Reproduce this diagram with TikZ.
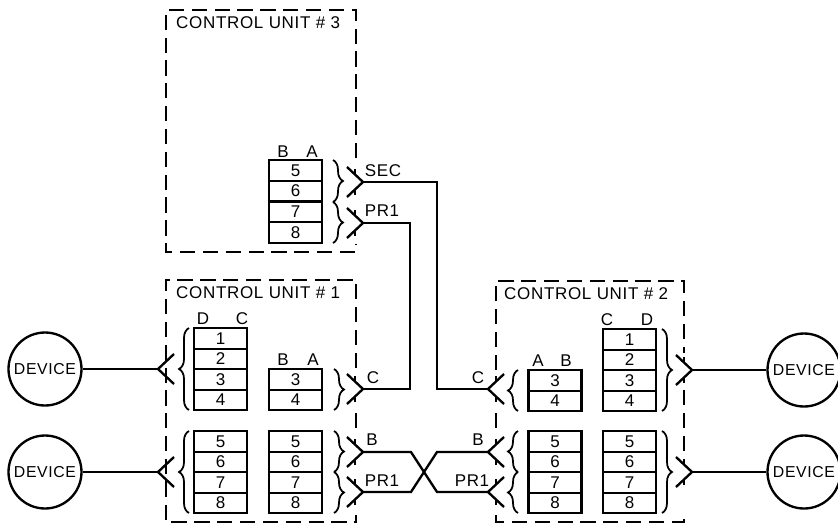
\documentclass[tikz,border=0pt]{standalone}
\usepackage{fontspec}
\setmainfont[LetterSpace=4]{Liberation Sans}
\usetikzlibrary{decorations.pathreplacing}
\tikzset{
	wire/.style={line width=2pt, line join=miter},
	unitbox/.style={line width=2.1pt, dash pattern=on 13pt off 6.5pt},
	cell/.style={draw, line width=2pt, minimum width=1.59cm, minimum height=0.615cm, inner sep=0pt, outer sep=0pt, font=\fontsize{14.5}{14.5}\selectfont},
	lab/.style={inner sep=0pt, font=\fontsize{14.5}{14.5}\selectfont},
	device/.style={draw, circle, line width=2pt, minimum size=2.19cm, inner sep=0pt, font=\fontsize{13.5}{14}\selectfont},
	bundle/.style={line width=1.5pt, decorate, decoration={brace, amplitude=0.3cm}}
}
\begin{document}
\begin{tikzpicture}[x=0.03cm, y=-0.03cm]
	\useasboundingbox (0,0) rectangle (838,523);
	% control unit outlines
	\draw[unitbox] (356,158) -- (356,10) -- (166,10) -- (166,252) -- (356,252) -- (356,244);
	\draw[unitbox] (356,368) -- (356,280) -- (166,280) -- (166,522) -- (356,522) -- (356,515);
	\draw[unitbox] (356,413) -- (356,428);
	\draw[unitbox] (496,370) -- (496,281) -- (684,281) -- (684,353);
	\draw[unitbox] (496,413) -- (496,428);
	\draw[unitbox] (496,515) -- (496,522) -- (684,522) -- (684,513);
	\draw[unitbox] (684,390) -- (684,456);
	\node[lab, anchor=west] (title3) at (176,23) {CONTROL UNIT \# 3};
	\node[lab, anchor=west] (title1) at (176,293) {CONTROL UNIT \# 1};
	\node[lab, anchor=west] (title2) at (504,294) {CONTROL UNIT \# 2};

	% storage cells
	\foreach \n/\y in {5/170.5,6/191,7/212,8/232.5} \node[cell] (c\n) at (295.5,\y) {\n};
	\foreach \n/\y in {1/338.5,2/359,3/379.5,4/400} \node[cell] (d\n) at (220.5,\y) {\n};
	\foreach \n/\y in {5/441.5,6/462,7/482.5,8/503} \node[cell] (e\n) at (220.5,\y) {\n};
	\foreach \n/\y in {3/379.5,4/400} \node[cell] (f\n) at (295.5,\y) {\n};
	\foreach \n/\y in {5/441.5,6/462,7/482.5,8/503} \node[cell] (g\n) at (295.5,\y) {\n};
	\foreach \n/\y in {3/380.5,4/401} \node[cell] (h\n) at (555,\y) {\n};
	\foreach \n/\y in {5/441.5,6/462,7/482.5,8/503} \node[cell] (i\n) at (555,\y) {\n};
	\foreach \n/\y in {1/339.5,2/360,3/380.5,4/401} \node[cell] (j\n) at (629.5,\y) {\n};
	\foreach \n/\y in {5/441.5,6/462,7/482.5,8/503} \node[cell] (k\n) at (629.5,\y) {\n};

	% letters over the cells
	\node[lab] (b3) at (283,152) {B}; \node[lab] (a3) at (312,152) {A};
	\node[lab] (dl) at (203,319) {D}; \node[lab] (cl) at (242,319) {C};
	\node[lab] (bl) at (283,360) {B}; \node[lab] (al) at (313,360) {A};
	\node[lab] (ar) at (538,361) {A}; \node[lab] (br) at (566,361) {B};
	\node[lab] (cr) at (607,320) {C}; \node[lab] (dr) at (647,320) {D};

	% braces
	\foreach \x/\a/\b in {333/160/202, 333/202/243, 334/369/410, 334/431/472, 334/472/513, 662/329/411, 662/431/513}
		\draw[bundle] (\x,\a) -- (\x,\b);
	\foreach \x/\a/\b in {189/328/410, 189/431/513, 518/370/411, 518/431/472, 518/472/513}
		\draw[bundle] (\x,\b) -- (\x,\a);

	% connectors
	\coordinate (sec3) at (363,182);
	\coordinate (pri3) at (363,223);
	\coordinate (c1) at (363,389);
	\coordinate (b1) at (363,452);
	\coordinate (pri1) at (363,492);
	\coordinate (c2) at (488,389);
	\coordinate (b2) at (488,452);
	\coordinate (pri2) at (488,492);
	\coordinate (dl1) at (158,369);
	\coordinate (dl2) at (158,472);
	\coordinate (dr1) at (692,370);
	\coordinate (dr2) at (692,472);
	\foreach \p/\s in {sec3/-1,pri3/-1,c1/-1,b1/-1,pri1/-1,c2/1,b2/1,pri2/1,dl1/1,dl2/1,dr1/-1,dr2/-1} {
		\draw[wire] ([shift={(\s*16,-15)}]\p) -- (\p) -- ([shift={(\s*16,15)}]\p);
		\draw[wire] ([shift={(\s*8,-13)}]\p) -- ++(0,6);
		\draw[wire] ([shift={(\s*8,7)}]\p) -- ++(0,6);
	}

	% wires
	\coordinate (secb) at (437,389);
	\coordinate (prib) at (410,389);
	\draw[wire] (sec3) -| (secb) -- (c2);
	\draw[wire] (pri3) -| (prib) -- (c1);
	\coordinate (xa) at (411,452);
	\coordinate (xb) at (437,452);
	\coordinate (xc) at (411,492);
	\coordinate (xd) at (437,492);
	\draw[wire] (b1) -- (xa) -- (xd) -- (pri2);
	\draw[wire] (pri1) -- (xc) -- (xb) -- (b2);
	\node[lab] (sec) at (383,171) {SEC};
	\node[lab] (pr3) at (382,211) {PR1};
	\node[lab] (lc1) at (373,378) {C};
	\node[lab] (lb1) at (372,440) {B};
	\node[lab] (pr1) at (382,481) {PR1};
	\node[lab] (lc2) at (478,378) {C};
	\node[lab] (lb2) at (478,440) {B};
	\node[lab] (pr2) at (472,481) {PR1};

	% devices
	\node[device] (dev1) at (45,369) {DEVICE};
	\node[device] (dev2) at (45,472) {DEVICE};
	\node[device] (dev3) at (804,370) {DEVICE};
	\node[device] (dev4) at (804,472) {DEVICE};
	\draw[wire] (dev1) -- (dl1);
	\draw[wire] (dev2) -- (dl2);
	\draw[wire] (dev3) -- (dr1);
	\draw[wire] (dev4) -- (dr2);
\end{tikzpicture}
\end{document}
